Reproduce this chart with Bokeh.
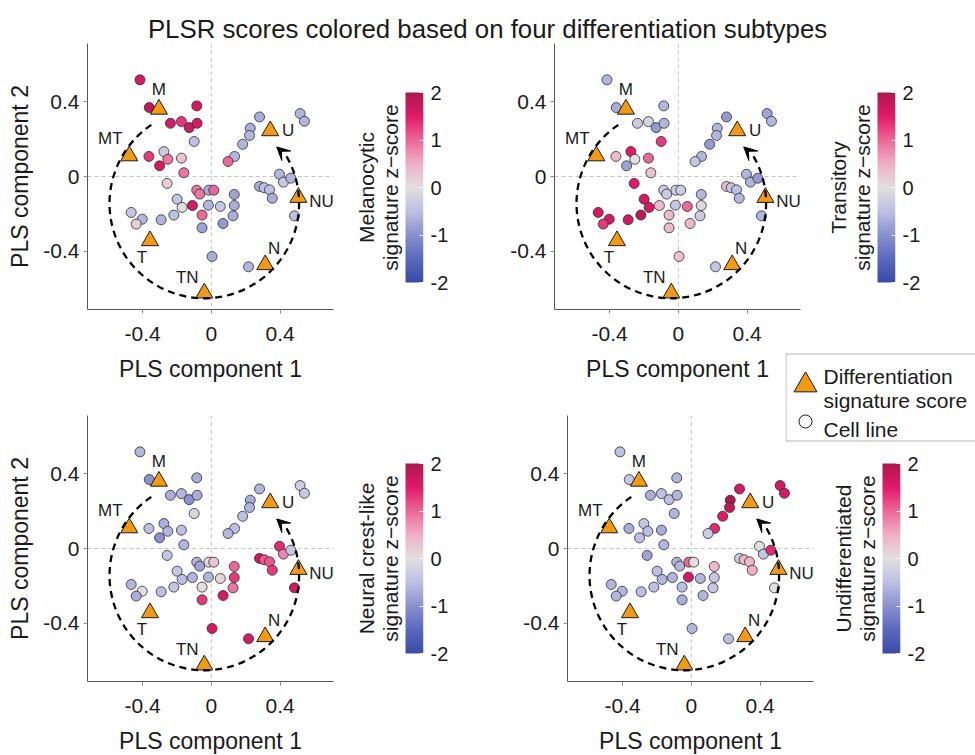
import numpy as np
from bokeh.plotting import figure
from bokeh.models import (ColumnDataSource, LinearColorMapper, Range1d, FixedTicker,
                          Span, Label, LabelSet, Arrow, VeeHead, BoxAnnotation)
from bokeh.layouts import row, column
from bokeh.embed import file_html
from bokeh.resources import INLINE
from bokeh.core.properties import value

# ---------------- data ----------------
TITLE = "PLSR scores colored based on four differentiation subtypes"

# cell lines (PLS scores)
pc1 = [-0.415, -0.361, -0.085, -0.238, -0.174, -0.129, -0.083, -0.100, -0.363, -0.276, -0.253, -0.301, -0.174, -0.160, -0.257,
       -0.085, -0.068, -0.015, 0.014, -0.199, -0.170, -0.110, -0.017, 0.052, 0.133, 0.133, 0.126, 0.068, -0.054, -0.054,
       -0.218, -0.292, -0.466, -0.402, -0.437, 0.004, 0.216,
       0.280, 0.226, 0.222, 0.182, 0.135, 0.097, 0.516, 0.541, 0.396, 0.419, 0.462, 0.280, 0.307, 0.338, 0.354, 0.483]
pc2 = [0.516, 0.368, 0.377, 0.284, 0.293, 0.261, 0.284, 0.187, 0.107, 0.133, 0.092, 0.057, 0.098, 0.020, -0.037,
       -0.073, -0.094, -0.073, -0.073, -0.121, -0.165, -0.155, -0.153, -0.160, -0.096, -0.155, -0.210, -0.251, -0.206, -0.274,
       -0.206, -0.231, -0.192, -0.228, -0.254, -0.427, -0.482,
       0.318, 0.258, 0.219, 0.172, 0.107, 0.080, 0.336, 0.295, 0.012, -0.030, -0.009, -0.053, -0.060, -0.071, -0.116, -0.210]

melanocytic_z = [1.6, 1.8, 1.6, 1.6, 1.3, 1.7, 1.6, -0.5, 1.3, -0.3, 0.9, 1.6, 0.3, 0.9, 0.2,
                 0.9, 0.9, -0.7, 1.0, -0.4, 0.0, 1.6, -0.6, -0.4, -0.8, -0.7, -0.7, -0.9, 1.0, -0.8,
                 -0.5, -0.6, -0.4, -0.6, 0.2, -0.7, -0.6,
                 -0.7, -0.7, -0.6, -0.6, -0.6, 1.0, -0.6, -0.6, -0.6, -0.4, -0.6, -0.7, -0.5, -0.5, -0.7, -0.5]
transitory_z = [-0.6, -0.7, -0.6, -0.3, -0.2, -0.9, -0.6, 1.3, 0.4, 1.5, 0.0, -0.8, 1.0, 0.3, 1.5,
                -0.3, -0.3, -0.3, -0.3, 1.6, 1.6, 0.4, -0.4, 1.0, -0.6, -0.1, -0.3, 0.4, 0.4, 0.4,
                1.8, 1.7, 1.6, 1.6, 1.3, 0.3, -0.4,
                -0.9, -0.6, -0.6, -0.9, -0.6, -0.4, -0.8, -0.6, -0.6, -0.6, -0.9, 0.4, -0.4, -0.5, -0.6, -0.6]
neural_crest_z = [-0.6, -1.0, -0.7, -0.7, -0.6, -1.0, -0.7, -0.1, -0.5, -0.7, -0.6, -1.0, -0.5, -0.6, -0.4,
                  -0.6, -0.8, -0.1, 0.3, -0.4, -0.5, -0.6, -0.6, 0.1, 1.0, 1.3, 0.9, 1.6, 0.0, 1.3,
                  -0.4, -0.5, -0.6, 0.0, -0.7, 1.6, 1.6,
                  -0.6, -0.7, -0.6, -0.5, -0.5, -0.6, -0.3, -0.4, 1.4, 0.8, -0.4, 1.6, 1.1, 1.1, 1.3, 1.6]
undifferentiated_z = [-0.5, -0.4, -0.6, -0.7, -0.5, -0.5, -0.6, -0.6, -0.7, -0.4, -0.5, -0.5, -0.7, -0.6, -0.8,
                      -0.6, -0.6, 1.0, 0.0, -0.5, -0.6, -0.6, 1.6, -0.6, 0.4, -0.4, -0.4, -0.6, -0.5, -0.7,
                      -0.5, -0.5, -0.6, -0.6, -0.6, -0.6, -0.5,
                      1.6, 2.0, 1.8, 1.5, 1.4, -0.3, 1.6, 1.6, 0.0, -0.4, 1.4, -0.3, 0.4, 0.4, 0.5, 0.0]

# differentiation signature scores
sig_names = ["M", "MT", "U", "NU", "N", "TN", "T"]
sig_pc1 = [-0.305, -0.477, 0.342, 0.506, 0.313, -0.041, -0.357]
sig_pc2 = [0.359, 0.110, 0.244, -0.112, -0.471, -0.622, -0.343]

axis_ticks = [-0.4, 0, 0.4]
axis_tick_labels = ["-0.4", "0", "0.4"]
cb_ticks = [-2, -1, 0, 1, 2]
cb_tick_labels = ["-2", "-1", "0", "1", "2"]

panel_titles = [("Melanocytic", "signature z\u2212score"),
                ("Transitory", "signature z\u2212score"),
                ("Neural crest-like", "signature z\u2212score"),
                ("Undifferentiated", "signature z\u2212score")]

# ---------------- styles ----------------
FONT = "Liberation Sans"
TXT = "#1a1a1a"
ORANGE = "#F49A10"
XLIM = (-0.72, 0.71)
YLIM = (-0.71, 0.71)
FRAME_W, FRAME_H = 246, 266
CB_PX_PER_UNIT = 47.5          # colour bar: 190 px for 4 units
CB_BAR_W = 18
CB_TITLE_SPACE = 55
LABEL_OFFSETS_X = [0, -19, 18, 23, 9, -17, -8]
LABEL_OFFSETS_Y = [20, 17, 0, -4, 16, 16, -17]
ARC_CENTER = (-0.041, -0.144)
ARC_RADIUS = 0.551
ARC_START_DEG, ARC_END_DEG = 124, 32
ARROW_START = (0.436, 0.110)
ARROW_TIP = (0.380, 0.158)

stops = [(-2.0, "#3a4ca8"), (-1.5, "#5a69bf"), (-1.0, "#8a91ce"), (-0.5, "#bdc0e4"),
         (0.0, "#e2dfdf"), (0.5, "#f0b0c6"), (1.0, "#ec6897"), (1.5, "#e21a6a"), (2.0, "#ad174e")]


def build_palette(stops, n=256):
    sv = [s for s, _ in stops]
    rgb = [tuple(int(c[i:i + 2], 16) for i in (1, 3, 5)) for _, c in stops]
    pal = []
    for t in np.linspace(sv[0], sv[-1], n):
        r = np.interp(t, sv, [c[0] for c in rgb])
        g = np.interp(t, sv, [c[1] for c in rgb])
        b = np.interp(t, sv, [c[2] for c in rgb])
        pal.append("#%02x%02x%02x" % (int(round(r)), int(round(g)), int(round(b))))
    return pal


palette = build_palette(stops)
mapper = LinearColorMapper(palette=palette, low=-2, high=2)
overrides = {t: s for t, s in zip(axis_ticks, axis_tick_labels)}
cb_overrides = {t: s for t, s in zip(cb_ticks, cb_tick_labels)}


def make_panel(z, top_b, bottom_b, ylabel):
    p = figure(frame_width=FRAME_W, frame_height=FRAME_H,
               x_range=Range1d(*XLIM), y_range=Range1d(*YLIM),
               min_border_left=87, min_border_right=2,
               min_border_top=top_b, min_border_bottom=bottom_b,
               output_backend="svg", toolbar_location=None,
               outline_line_color=None, border_fill_color=None,
               background_fill_color=None)
    p.grid.visible = False
    for ax in (p.xaxis[0], p.yaxis[0]):
        ax.ticker = FixedTicker(ticks=axis_ticks)
        ax.major_label_overrides = overrides
        ax.minor_tick_line_color = None
        ax.axis_line_color = "#555555"
        ax.major_tick_line_color = "#8c8c8c"
        ax.major_tick_out = 4
        ax.major_tick_in = 0
        ax.major_label_text_font = FONT
        ax.major_label_text_font_size = "21px"
        ax.major_label_text_color = TXT
        ax.axis_label_text_font = FONT
        ax.axis_label_text_font_size = "23px"
        ax.axis_label_text_font_style = "normal"
        ax.axis_label_text_color = TXT
    p.xaxis.axis_label = "PLS component 1"
    p.xaxis.major_label_standoff = 13
    p.xaxis.axis_label_standoff = 12
    p.yaxis.major_label_standoff = 4
    p.yaxis.axis_label_standoff = 7
    if ylabel:
        p.yaxis.axis_label = ylabel

    p.add_layout(Span(location=0, dimension="height", line_color="#c4c4c4",
                      line_dash="4 3", line_width=1, level="underlay"))
    p.add_layout(Span(location=0, dimension="width", line_color="#c4c4c4",
                      line_dash="4 3", line_width=1, level="underlay"))

    src = ColumnDataSource(dict(x=pc1, y=pc2, z=z))
    p.scatter("x", "y", source=src, size=10,
              fill_color={"field": "z", "transform": mapper},
              line_color="#2b2b2b", line_width=0.8)

    tri = ColumnDataSource(dict(x=sig_pc1, y=sig_pc2, name=sig_names,
                                dx=LABEL_OFFSETS_X, dy=LABEL_OFFSETS_Y))
    p.scatter("x", "y", source=tri, marker="triangle", size=17,
              fill_color=ORANGE, line_color="#1a1a1a", line_width=1)

    p.arc(x=[ARC_CENTER[0]], y=[ARC_CENTER[1]], radius=ARC_RADIUS,
          start_angle=np.deg2rad(ARC_START_DEG), end_angle=np.deg2rad(ARC_END_DEG),
          direction="anticlock", line_color="black", line_width=2.3, line_dash="7 5")
    p.add_layout(Arrow(end=VeeHead(size=13, fill_color="black", line_color="black"),
                       x_start=ARROW_START[0], y_start=ARROW_START[1],
                       x_end=ARROW_TIP[0], y_end=ARROW_TIP[1], line_alpha=0))

    p.add_layout(LabelSet(x="x", y="y", text="name", x_offset="dx", y_offset="dy",
                          source=tri, text_align="center", text_baseline="middle",
                          text_font=value(FONT), text_font_size="17px", text_color=TXT))
    return p


grad = np.linspace(-2, 2, 256).reshape(-1, 1)


def make_cbar(titles, left_b, right_b, top_b, bottom_b, gap_top, gap_bottom):
    # frame matches the panel frame height; bar occupies -2..2 inside it
    ylo = -2 - gap_bottom / CB_PX_PER_UNIT
    yhi = 2 + gap_top / CB_PX_PER_UNIT
    c = figure(frame_width=CB_TITLE_SPACE + CB_BAR_W, frame_height=FRAME_H,
               x_range=Range1d(-CB_TITLE_SPACE / CB_BAR_W, 1), y_range=Range1d(ylo, yhi),
               min_border_left=left_b, min_border_right=right_b,
               min_border_top=top_b, min_border_bottom=bottom_b,
               x_axis_location=None, y_axis_location="right",
               output_backend="svg", toolbar_location=None,
               outline_line_color=None, border_fill_color=None,
               background_fill_color=None)
    c.grid.visible = False
    c.image(image=[grad], x=0, y=-2, dw=1, dh=4, color_mapper=mapper)
    ax = c.yaxis[0]
    ax.ticker = FixedTicker(ticks=cb_ticks)
    ax.major_label_overrides = cb_overrides
    ax.axis_line_color = None
    ax.minor_tick_line_color = None
    ax.major_tick_in = 4
    ax.major_tick_out = 0
    ax.major_tick_line_color = "white"
    ax.major_label_standoff = 7
    ax.major_label_text_font = FONT
    ax.major_label_text_font_size = "20px"
    ax.major_label_text_color = TXT
    for off, t in zip((-39.5, -15.5), titles):
        c.add_layout(Label(x=off / CB_BAR_W, y=0, text=t, angle=90, angle_units="deg",
                           text_align="center", text_baseline="middle",
                           text_font=FONT, text_font_size="21px", text_color=TXT))
    return c


# ---------------- title ----------------
tf = figure(width=975, height=43, x_range=Range1d(0, 975), y_range=Range1d(43, 0),
            min_border=0, x_axis_location=None, y_axis_location=None,
            toolbar_location=None, output_backend="svg",
            outline_line_color=None, border_fill_color=None)
tf.grid.visible = False
tf.add_layout(Label(x=487, y=28, text=TITLE, text_align="center", text_baseline="alphabetic",
                    text_font=FONT, text_font_size="25.8px", text_color=TXT))

# ---------------- panels ----------------
p1 = make_panel(melanocytic_z, 0, 77, "PLS component 2")
c1 = make_cbar(panel_titles[0], 15, 44, 0, 77, 49, 27)
p2 = make_panel(transitory_z, 0, 77, None)
c2 = make_cbar(panel_titles[1], 20, 80, 0, 77, 49, 27)

p3 = make_panel(neural_crest_z, 29, 74, "PLS component 2")
c3 = make_cbar(panel_titles[2], 15, 57, 29, 74, 48, 28)
p4 = make_panel(undifferentiated_z, 29, 74, None)
c4 = make_cbar(panel_titles[3], 12, 75, 29, 74, 48, 28)

# ---------------- legend ----------------
leg = figure(width=190, height=92, x_range=Range1d(0, 190), y_range=Range1d(92, 0),
             min_border=0, x_axis_location=None, y_axis_location=None,
             toolbar_location=None, output_backend="svg",
             outline_line_color=None, border_fill_color=None, background_fill_color=None,
             margin=(-36, 0, -56, 785))
leg.grid.visible = False
leg.add_layout(BoxAnnotation(left=0.5, right=400, top=3.5, bottom=90.5, fill_color="white",
                             fill_alpha=1, line_color="black", line_width=1, level="underlay"))
key_src = ColumnDataSource(dict(x=[20, 20], y=[34.7, 71], marker=["triangle", "circle"],
                                size=[23, 13], fill=[ORANGE, "white"]))
leg.scatter("x", "y", source=key_src, marker="marker", size="size", fill_color="fill",
            line_color="#1a1a1a", line_width=1)
for txt, yb in (("Differentiation", 26), ("signature score", 50), ("Cell line", 79.3)):
    leg.add_layout(Label(x=38, y=yb, text=txt, text_align="left", text_baseline="alphabetic",
                         text_font=FONT, text_font_size="21px", text_color=TXT))

layout = column(tf, row(p1, c1, p2, c2), leg, row(p3, c3, p4, c4))

open("out.html", "w").write(file_html(layout, INLINE))
